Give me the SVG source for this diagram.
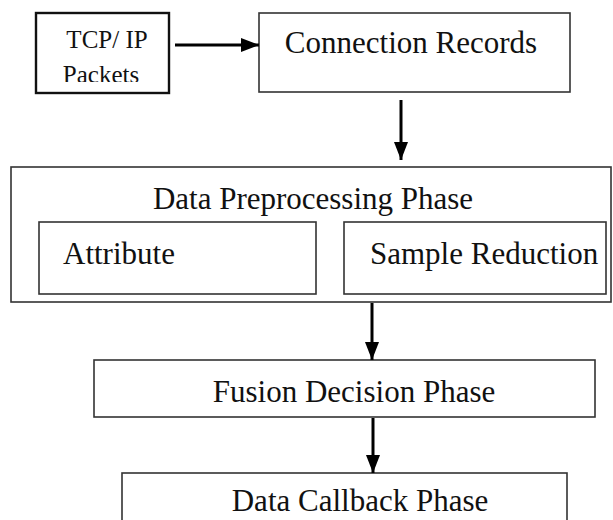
<svg xmlns="http://www.w3.org/2000/svg" width="613" height="520" viewBox="0 0 613 520">
  <style>
    .box { fill: #ffffff; stroke: #333333; stroke-width: 1.6; }
    .lbl { font-family: "Liberation Serif", "Times New Roman", serif; fill: #111111; }
    .big { font-size: 31px; }
    .small { font-size: 25px; }
    .wire { stroke: #000000; stroke-width: 3; fill: none; }
  </style>
  <defs>
    <marker id="head" viewBox="0 0 18 14" refX="18" refY="7" markerWidth="18" markerHeight="14" markerUnits="userSpaceOnUse" orient="auto">
      <path d="M0,0 L18,7 L0,14 Z" fill="#000000"/>
    </marker>
    <clipPath id="tcpClip">
      <rect x="36" y="13" width="134" height="69"/>
    </clipPath>
  </defs>
  <rect width="613" height="520" fill="#ffffff"/>

  <g id="tcp-packets">
    <rect class="box" x="36" y="13" width="133" height="80" style="stroke:#111;stroke-width:2.4"/>
    <g clip-path="url(#tcpClip)">
      <text class="lbl small" x="107" y="48" text-anchor="middle">TCP/ IP</text>
      <text class="lbl small" x="101" y="83" text-anchor="middle">Packets</text>
    </g>
  </g>

  <g id="connection-records">
    <rect class="box" x="259" y="13" width="311" height="79"/>
    <text class="lbl big" x="411" y="53" text-anchor="middle">Connection Records</text>
  </g>

  <g id="data-preprocessing">
    <rect class="box" x="11" y="167" width="600" height="135"/>
    <text class="lbl big" x="313" y="209" text-anchor="middle">Data Preprocessing Phase</text>
    <g id="attribute">
      <rect class="box" x="39" y="222" width="277" height="72"/>
      <text class="lbl big" x="63" y="264">Attribute</text>
    </g>
    <g id="sample-reduction">
      <rect class="box" x="344" y="222" width="262" height="72"/>
      <text class="lbl big" x="370" y="264">Sample Reduction</text>
    </g>
  </g>

  <g id="fusion-decision">
    <rect class="box" x="94" y="360" width="501" height="57"/>
    <text class="lbl big" x="354" y="402" text-anchor="middle">Fusion Decision Phase</text>
  </g>

  <g id="data-callback">
    <rect class="box" x="122" y="473" width="445" height="60"/>
    <text class="lbl big" x="360" y="511" text-anchor="middle">Data Callback Phase</text>
  </g>

  <g id="connectors">
    <line class="wire" x1="175" y1="45" x2="259" y2="45" marker-end="url(#head)"/>
    <line class="wire" x1="401" y1="100" x2="401" y2="160" marker-end="url(#head)"/>
    <line class="wire" x1="372" y1="303" x2="372" y2="360" marker-end="url(#head)"/>
    <line class="wire" x1="373" y1="418" x2="373" y2="473" marker-end="url(#head)"/>
  </g>
</svg>
